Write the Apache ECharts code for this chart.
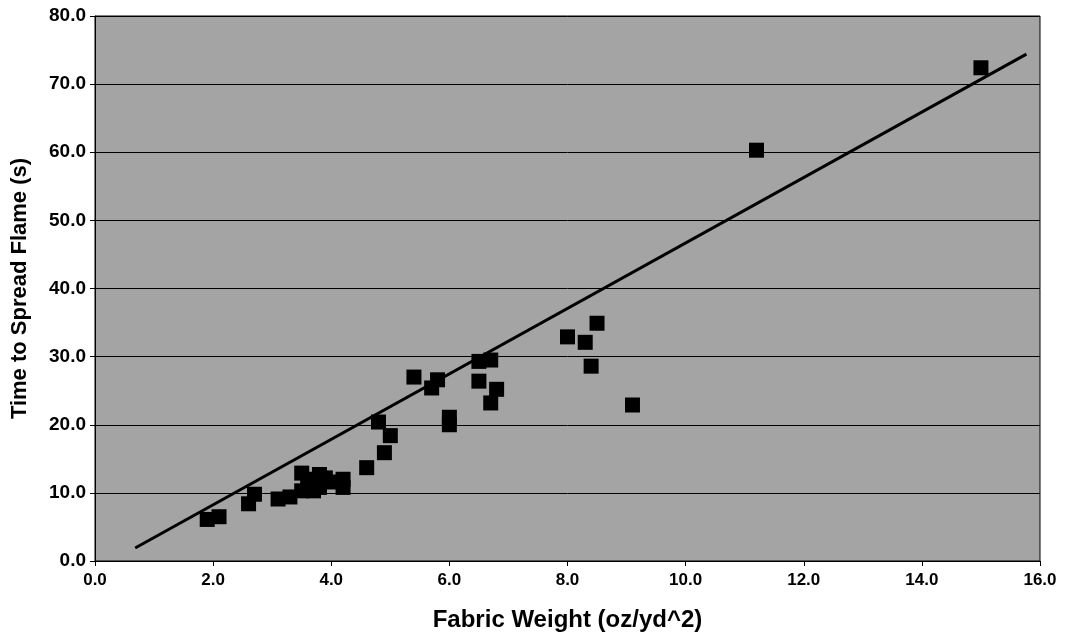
<!DOCTYPE html>
<html>
<head>
<meta charset="utf-8">
<script src="https://cdn.jsdelivr.net/npm/echarts@6/dist/echarts.min.js"></script>
<style>
  html, body { margin: 0; padding: 0; background: #ffffff; }
  #chart { width: 1067px; height: 643px; }
</style>
</head>
<body>
<div id="chart"></div>
<script>
// Fabric weight (oz/yd^2) and time for the flame to spread (s), one entry per fabric
const fabricWeight = [1.9, 2.1, 2.6, 2.7, 3.1, 3.3, 3.5, 3.5, 3.6, 3.7, 3.7, 3.8, 3.8, 3.9, 4.0,
  4.2, 4.2, 4.6, 4.8, 4.9, 5.0, 5.4, 5.7, 5.8, 6.0, 6.0, 6.5, 6.5, 6.7, 6.8, 6.7,
  8.0, 8.3, 8.4, 8.5, 9.1, 11.2, 15.0];
const spreadTime = [6.1, 6.5, 8.4, 9.8, 9.1, 9.4, 12.9, 10.3, 11.0, 10.3, 12.0, 12.7, 10.8, 12.2, 11.6,
  12.0, 10.8, 13.7, 20.4, 15.9, 18.4, 27.0, 25.4, 26.6, 21.1, 20.0, 29.3, 26.4, 29.5, 25.2, 23.2,
  32.9, 32.1, 28.6, 34.9, 22.9, 60.3, 72.4];

// Ends of the linear trend line
const trendX = [0.68, 15.77];
const trendY = [1.9, 74.4];

const xTitle = 'Fabric Weight (oz/yd^2)';
const yTitle = 'Time to Spread Flame (s)';

const points = fabricWeight.map((w, i) => [w, spreadTime[i]]);
const trend = trendX.map((x, i) => [x, trendY[i]]);

const chart = echarts.init(document.getElementById('chart'), null, { renderer: 'canvas' });
const fontFamily = '"Liberation Sans", Arial, sans-serif';

chart.setOption({
  animation: false,
  backgroundColor: '#ffffff',
  grid: {
    left: 95, right: 27, top: 16, bottom: 82,
    show: true,
    backgroundColor: '#a4a4a4',
    borderColor: '#000000',
    borderWidth: 1
  },
  xAxis: {
    type: 'value',
    min: 0, max: 16, interval: 2,
    name: xTitle,
    nameLocation: 'middle',
    nameGap: 47,
    nameTextStyle: { fontFamily, fontWeight: 'bold', fontSize: 24, color: '#000' },
    axisLine: { show: true, onZero: false, lineStyle: { color: '#000', width: 1 } },
    axisTick: { show: true, length: 5, inside: false, lineStyle: { color: '#000' } },
    axisLabel: {
      fontFamily, fontWeight: 'bold', fontSize: 17, color: '#000', margin: 11,
      formatter: v => v.toFixed(1)
    },
    splitLine: { show: false }
  },
  yAxis: {
    type: 'value',
    min: 0, max: 80, interval: 10,
    name: yTitle,
    nameLocation: 'middle',
    nameGap: 64,
    nameRotate: 90,
    nameTextStyle: { fontFamily, fontWeight: 'bold', fontSize: 22, color: '#000' },
    axisLine: { show: true, lineStyle: { color: '#000', width: 1 } },
    axisTick: { show: true, length: 5, inside: false, lineStyle: { color: '#000' } },
    axisLabel: {
      fontFamily, fontWeight: 'bold', fontSize: 19, color: '#000', margin: 9,
      formatter: v => v.toFixed(1)
    },
    splitLine: { show: true, lineStyle: { color: '#000', width: 1 } }
  },
  series: [
    {
      name: 'Trend',
      type: 'line',
      data: trend,
      showSymbol: false,
      symbol: 'none',
      lineStyle: { color: '#000', width: 3 },
      silent: true,
      z: 3
    },
    {
      name: 'Fabrics',
      type: 'scatter',
      data: points,
      symbol: 'rect',
      symbolSize: 15,
      itemStyle: { color: '#000', opacity: 1 },
      z: 4
    }
  ]
});
</script>
</body>
</html>
